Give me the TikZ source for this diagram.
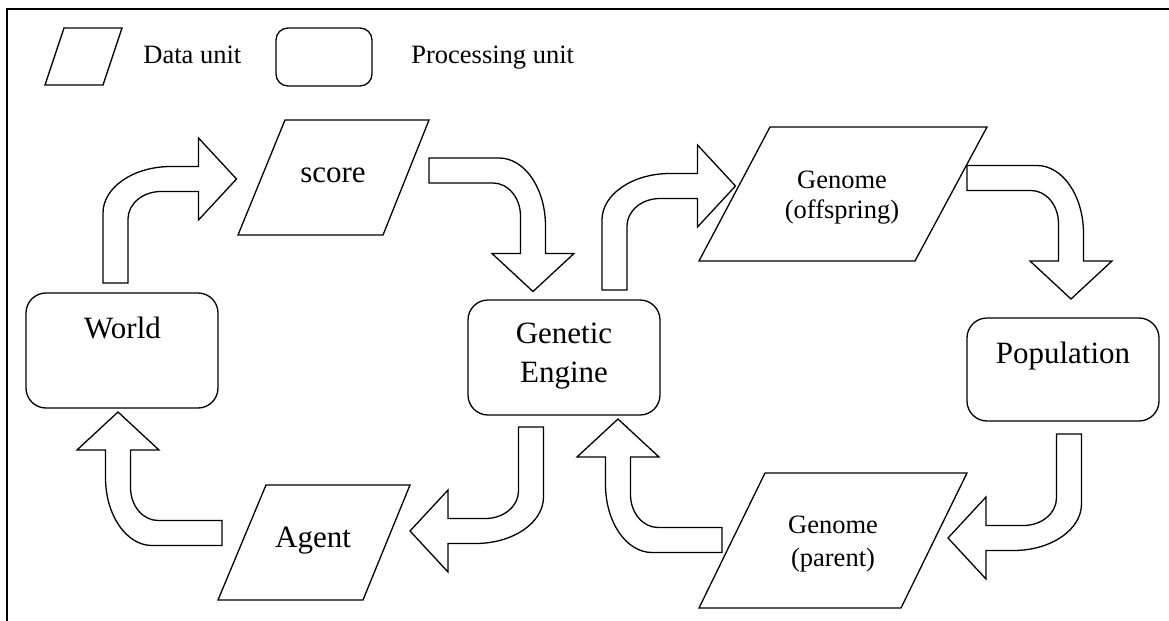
\documentclass[tikz,border=0pt]{standalone}
\usepackage{fontspec}
\setmainfont{Liberation Serif}
\begin{document}
\begin{tikzpicture}[x=0.5pt,y=0.5pt,
  shapeline/.style={draw=black,line width=0.65pt,line join=miter},
  procbox/.style={shapeline,rounded corners=10pt,inner sep=0pt,outer sep=0pt,minimum width=96pt},
  smalltxt/.style={inner sep=0pt,font=\fontsize{13.25}{15}\selectfont},
  bigtxt/.style={inner sep=0pt,font=\fontsize{15.5}{18}\selectfont},
  bentarrow/.pic={
    \draw[shapeline] (-12.5,0) -- (-12.5,70)
      arc[start angle=180,end angle=90,x radius=68,y radius=46.5]
      -- (83,116.5) -- (83,145) -- (121,104) -- (83,63) -- (83,91.5)
      -- (45.5,91.5)
      arc[start angle=90,end angle=180,x radius=33,y radius=27.5]
      -- (12.5,0) -- cycle;
  }]
\useasboundingbox (0,0) rectangle (1169,-621);
% frame
\draw[line width=1pt] (7,-621) -- (7,-9) -- (1169,-9);

% legend
\draw[shapeline] (64,-28) -- (122,-28) -- (103,-85) -- (45,-85) -- cycle;
\node[smalltxt,anchor=base west] (datalbl) at (143,-63) {Data unit};
\node[procbox,rounded corners=6pt,minimum width=48pt,minimum height=29pt] (legbox) at (324,-57) {};
\node[smalltxt,anchor=base west] (proclbl) at (411,-63) {Processing unit};

% processing units
\node[procbox,minimum height=57.5pt] (world) at (122,-350.5) {};
\node[bigtxt,anchor=base] (worldtxt) at (122.5,-338) {World};
\node[procbox,minimum height=57.5pt] (ge) at (564,-357.5) {};
\node[bigtxt,anchor=base] (getxta) at (564,-343) {Genetic};
\node[bigtxt,anchor=base] (getxtb) at (564,-382) {Engine};
\node[procbox,minimum height=51.5pt] (pop) at (1063,-369.5) {};
\node[bigtxt,anchor=base] (poptxt) at (1063,-363) {Population};

% data units
\draw[shapeline] (285,-120) -- (429,-120) -- (383,-235) -- (238,-235) -- cycle;
\node[bigtxt,anchor=base] (score) at (333,-182) {score};
\draw[shapeline] (266,-485) -- (410,-485) -- (363,-600) -- (218,-600) -- cycle;
\node[bigtxt,anchor=base] (agent) at (313,-547) {Agent};
\draw[shapeline] (770,-127) -- (987,-127) -- (915,-261) -- (699,-261) -- cycle;
\node[smalltxt,anchor=base] (offa) at (842,-188) {Genome};
\node[smalltxt,anchor=base] (offb) at (842,-218) {(offspring)};
\draw[shapeline] (765,-473) -- (967,-473) -- (901,-608) -- (699,-608) -- cycle;
\node[smalltxt,anchor=base] (para) at (833,-533) {Genome};
\node[smalltxt,anchor=base] (parb) at (833,-566) {(parent)};

% block arrows
\pic (arA) at (115.5,-283) {bentarrow};
\pic[rotate=-90] (arB) at (429,-170.5) {bentarrow};
\pic (arC) at (614.5,-290) {bentarrow};
\pic[rotate=-90] (arD) at (967,-178) {bentarrow};
\pic[rotate=180] (arE) at (531,-427) {bentarrow};
\pic[rotate=90] (arF) at (222,-533) {bentarrow};
\pic[rotate=90] (arG) at (722,-540) {bentarrow};
\pic[rotate=180] (arH) at (1069,-434) {bentarrow};
\end{tikzpicture}
\end{document}
